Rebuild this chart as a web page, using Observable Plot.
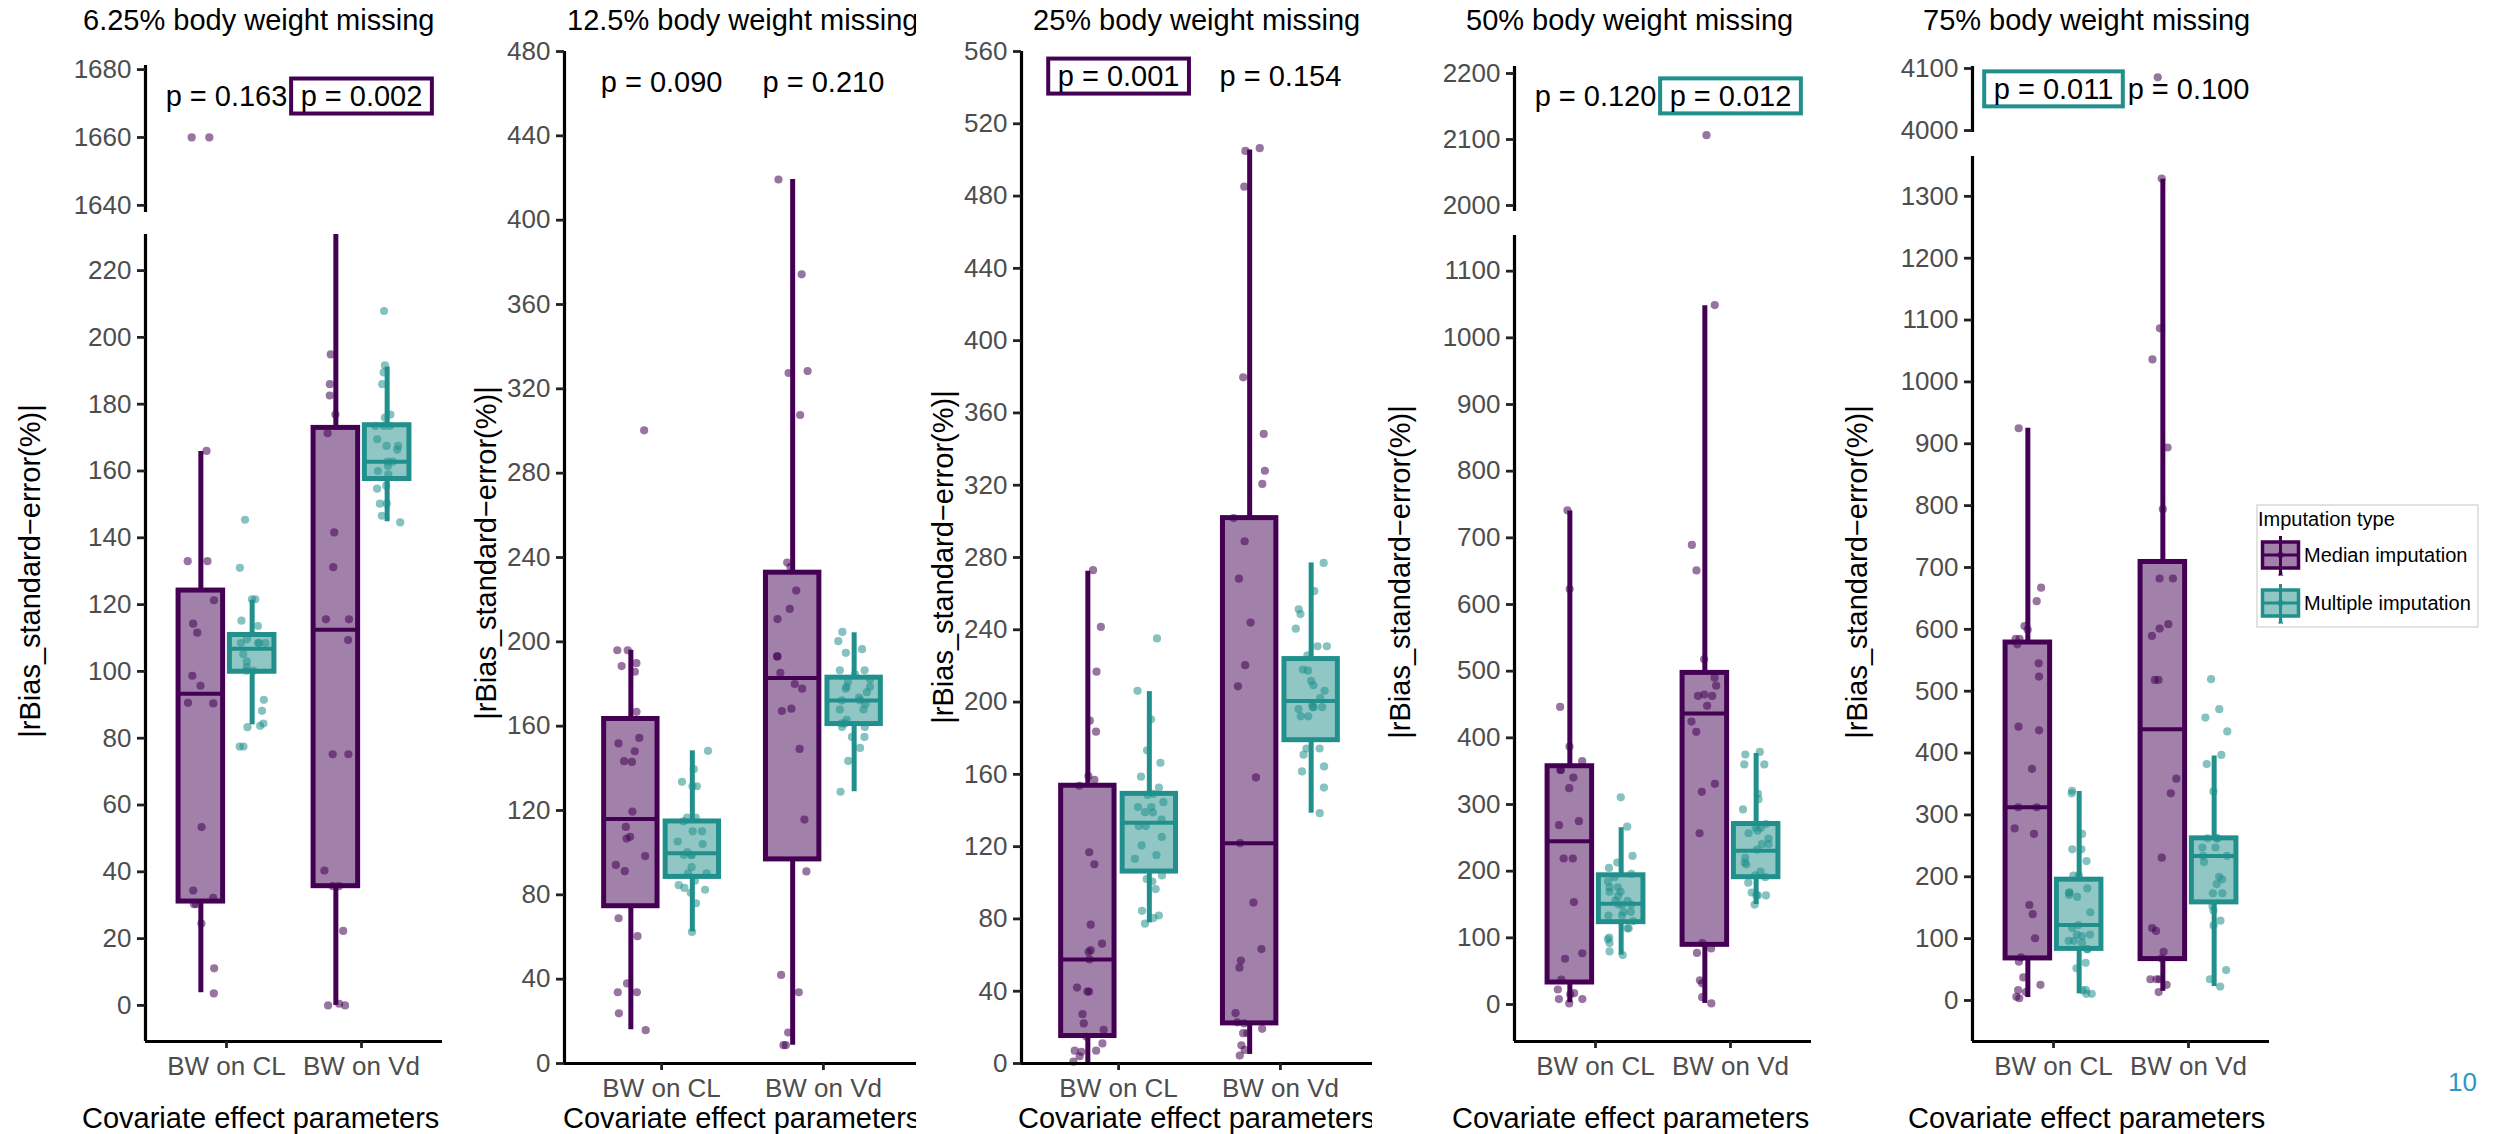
<!DOCTYPE html>
<html><head><meta charset="utf-8">
<script src="https://cdn.jsdelivr.net/npm/d3@7"></script>
<script src="https://cdn.jsdelivr.net/npm/@observablehq/plot@0.6"></script>
<style>
html,body{margin:0;padding:0;background:#fff;}
#root{position:relative;width:2496px;height:1134px;overflow:hidden;background:#fff;}
.panel{position:absolute;left:0;top:0;height:1134px;overflow:hidden;}
</style></head>
<body><div id="root"></div>
<script>
// ---------------- DATA ----------------
const categories = ["BW on CL", "BW on Vd"];
const imputationTypes = ["Median imputation", "Multiple imputation"];
const panelTitles = ["6.25% body weight missing", "12.5% body weight missing", "25% body weight missing", "50% body weight missing", "75% body weight missing"];
const yAxisTitle = "|rBias_standard\u2212error(%)|";
const xAxisTitle = "Covariate effect parameters";
const legendTitle = "Imputation type";
const pageNumber = "10";

// p-value labels per panel: [BW on CL, BW on Vd]
const pValueText = [["p = 0.163", "p = 0.002"], ["p = 0.090", "p = 0.210"], ["p = 0.001", "p = 0.154"], ["p = 0.120", "p = 0.012"], ["p = 0.011", "p = 0.100"]];
const pValueHighlight = [[null, "Median imputation"], [null, null], ["Median imputation", null], [null, "Multiple imputation"], ["Multiple imputation", null]];
const pValueY = [1672, 465, 546, 2165, 4066];

// y tick labels
const yTicksUpper = [[1640, 1660, 1680], null, null, [2000, 2100, 2200], [4000, 4100]];
const yTicksLower = [
  [0, 20, 40, 60, 80, 100, 120, 140, 160, 180, 200, 220],
  [0, 40, 80, 120, 160, 200, 240, 280, 320, 360, 400, 440, 480],
  [0, 40, 80, 120, 160, 200, 240, 280, 320, 360, 400, 440, 480, 520, 560],
  [0, 100, 200, 300, 400, 500, 600, 700, 800, 900, 1000, 1100],
  [0, 100, 200, 300, 400, 500, 600, 700, 800, 900, 1000, 1100, 1200, 1300]
];

// box statistics per panel, order: CL-Median, CL-Multiple, Vd-Median, Vd-Multiple
const boxLo  = [[3.8, 84, 0, 144.8], [16, 62.4, 8.7, 128.9], [0.5, 77.8, 5, 138.5], [2.7, 74.1, 1.6, 149.9], [4.7, 10.7, 14.8, 22.5]];
const boxQ1  = [[31.1, 99.9, 35.7, 157.6], [74.6, 88.5, 96.8, 161], [15.2, 106.2, 22.2, 178.9], [33, 123.5, 89.5, 191], [68, 83.4, 66.9, 158.6]];
const boxMed = [[93.3, 106.8, 112.5, 162.8], [116, 99.7, 182.8, 172.2], [57.6, 133.2, 121.9, 200.6], [244.9, 151, 436.5, 230.6], [312.4, 121.9, 438.4, 233.7]];
const boxQ3  = [[124.2, 110.9, 172.9, 173.7], [163.4, 114.8, 232.8, 183], [153.7, 149.2, 301.8, 223.8], [357.4, 193.8, 497.4, 270.7], [578.7, 195.3, 708.9, 262.1]];
const boxHi  = [[165.8, 121.3, 300, 191.1], [196, 148.3, 419.3, 204.3], [272.4, 205.8, 505.5, 277], [740.1, 265.2, 1048, 376.6], [925.1, 337.9, 1327.7, 395.3]];

// individual simulation results
const p1_cl_med = [1660, 1660, 166, 133, 133, 121.3, 114.3, 111.6, 98.7, 95.7, 90.6, 90.4, 53.4, 34.4, 32.2, 30.3, 30.3, 24.5, 11.1, 3.6];
const p1_cl_mul = [145.4, 131, 121.6, 121.6, 115.2, 113.6, 109.6, 108.5, 108.5, 108.5, 108.5, 105.2, 103, 101.3, 100.2, 100.2, 91.5, 88.2, 84.4, 83.3, 83.7, 77.5, 77.5];
const p1_vd_med = [194.9, 186, 182.6, 176.9, 171.3, 141.6, 131.2, 115.6, 115.6, 109.4, 75.2, 75.2, 40.4, 35.7, 35.7, 22.3, 0.5, 0, 0];
const p1_vd_mul = [207.9, 191.6, 189.5, 186, 176.9, 176, 173.5, 173.5, 173.5, 169.5, 167.5, 167.5, 166.4, 162.8, 162.8, 161.5, 160, 159, 155.6, 154.7, 150.2, 150.2, 146.6, 144.6];

const p2_cl_med = [300.3, 196, 196, 189.9, 188.5, 185.8, 166.8, 154.4, 151.8, 148.1, 143.1, 143.4, 119.5, 112.2, 106.7, 107.5, 98.4, 94.2, 91.2, 68.9, 60.4, 38, 33.8, 33.8, 23.8, 15.8];
const p2_cl_mul = [148.3, 139.6, 133.6, 131.5, 131.5, 116.6, 116.6, 114.8, 110.1, 110.1, 105.3, 104.1, 100.3, 98.9, 98.9, 98.9, 93.1, 90.2, 90.2, 86.7, 84.6, 83.3, 82.4, 81, 76, 62.4];
const p2_vd_med = [419.3, 374.3, 328.4, 327.5, 307.6, 237.6, 235.6, 224.3, 215.6, 210.8, 193.1, 193.1, 185.3, 180, 177.8, 168.3, 167.2, 149.2, 115.7, 91.1, 42, 33.8, 14.7, 8.7, 8.7];
const p2_vd_mul = [204.7, 200.3, 196.5, 194.8, 186.5, 186.5, 184.7, 182.1, 181.2, 178.7, 178.7, 177.8, 176.1, 173.5, 172.2, 172.2, 170.5, 167.9, 167.9, 163, 161.3, 161.3, 159.6, 159.6, 154.9, 154.9, 149.7, 143.5, 128.9];

const p3_cl_med = [273, 241.6, 216.8, 189.7, 183.6, 159.1, 157, 153.7, 116.9, 110.2, 76.8, 66.3, 62.7, 61.7, 57.6, 42, 39.8, 39.8, 27.3, 22.2, 18.6, 14.8, 11.1, 7.1, 7.1, 6.5, 4, 1];
const p3_cl_mul = [235.2, 206.2, 190.5, 173.3, 166.4, 158.7, 152.7, 149.2, 148.6, 144.6, 141.9, 141.9, 139.1, 138.9, 134.9, 131.4, 131.4, 125.4, 120.7, 115.3, 113.2, 104.1, 102.1, 100.7, 96.5, 84.5, 81.9, 80.5, 77.4];
const p3_vd_med = [506.5, 505, 485.2, 379.7, 348.4, 328, 320.7, 301.8, 289, 268.3, 244, 220.4, 208.7, 158.3, 121.9, 89, 63.3, 57, 53, 27.9, 22.8, 22.2, 19.2, 16.8, 16.8, 10.1, 7.5, 4.4];
const p3_vd_mul = [277, 261.4, 251.3, 248.7, 240.6, 230.9, 230.9, 225.9, 218, 217.4, 211.7, 209.3, 206.2, 202.2, 198.8, 197.2, 197.2, 197.2, 196.1, 192.1, 192.1, 174.3, 174.3, 170.9, 164.4, 161.6, 152.7, 138.5];

const p4_cl_med = [741.2, 623.1, 446.3, 387, 365, 351.9, 351.9, 340.4, 324.5, 275, 269, 219, 219, 153.7, 76.9, 68.6, 37.3, 22.5, 17, 15.4, 8.2, 8.2, 1.6];
const p4_cl_mul = [310.7, 266.8, 222.9, 213, 204.8, 196, 191, 184.5, 175.7, 175.7, 169.1, 169.1, 162.5, 155.4, 155.4, 149.9, 149.9, 149.9, 138.9, 138.9, 133.4, 133.4, 125.2, 114.2, 114.2, 100.5, 97.7, 92.2, 79.6, 74.1];
const p4_vd_med = [2106.5, 1049.1, 689.3, 651.1, 517.7, 490.3, 478.2, 465, 462.8, 462.8, 448, 424.4, 409, 331, 319, 256.9, 92.2, 84, 77.4, 36.2, 31.8, 11, 1.6];
const p4_vd_mul = [378.8, 375, 360.1, 360.1, 316.2, 308, 292.6, 270.7, 265.2, 265.2, 260.8, 256.9, 248.7, 240.5, 240.5, 232.2, 220.1, 213, 210.3, 199.3, 193.8, 191, 182.8, 168, 163.6, 163.6, 163.6, 149.9];

const p5_cl_med = [925.1, 667.4, 645.5, 605.3, 599.4, 584.6, 584.6, 575.7, 545, 523.6, 442.6, 436.7, 374.5, 312.4, 312.4, 278.1, 269.2, 154.4, 139.6, 100.6, 69.8, 62.7, 37.3, 25.4, 16.6, 13.6, 5.9, 3.6];
const p5_cl_mul = [339, 334.9, 269.2, 244.4, 244.4, 225.4, 201.8, 201.8, 181.1, 174.6, 174.6, 170.4, 167.5, 142.6, 121.9, 117.2, 106.5, 106.5, 104.1, 96.4, 96.4, 93.5, 82.8, 82.8, 60.9, 52.1, 16.6, 16.6, 10.7, 10.7];
const p5_vd_med = [4085.7, 1328.8, 1086.6, 1036.4, 894, 794.2, 682.2, 682.2, 608.3, 601.2, 589.3, 518.3, 518.3, 358.6, 334.9, 230.8, 117.2, 112.4, 78.7, 68, 34.3, 34.3, 34.3, 25.4, 13.6];
const p5_vd_mul = [519.5, 471, 457.4, 434.9, 397, 382.2, 337.9, 262.1, 262.1, 262.1, 247.3, 247.3, 233.7, 233.7, 223.7, 200, 195.9, 188.2, 173.4, 173.4, 152.7, 145.6, 129, 121.3, 49.1, 34.3, 22.5];

const panelPoints = [
  [p1_cl_med, p1_cl_mul, p1_vd_med, p1_vd_mul],
  [p2_cl_med, p2_cl_mul, p2_vd_med, p2_vd_mul],
  [p3_cl_med, p3_cl_mul, p3_vd_med, p3_vd_mul],
  [p4_cl_med, p4_cl_mul, p4_vd_med, p4_vd_mul],
  [p5_cl_med, p5_cl_mul, p5_vd_med, p5_vd_mul]
];

// ---------------- LAYOUT / STYLE ----------------
const FONT = '"Liberation Sans", Arial, Helvetica, sans-serif';
const COLORS = {"Median imputation": "#440154", "Multiple imputation": "#21908C"};
const DODGE = 0.19, BOXW = 0.33, JIT = 0.1;
const layout = [
  {axisX: 145, right: 442, clip: null, upper: {top: 65, bottom: 212, domain: [1637.9, 1681.2]}, lower: {top: 234, bottom: 1041, domain: [-10.8, 230.8]}, titleX: 83, yTitle: [30, 571], xTitleX: 82},
  {axisX: 564, right: 920, clip: 916, upper: null, lower: {top: 51, bottom: 1063, domain: [0, 480]}, titleX: 567, yTitle: [486, 553], xTitleX: 563},
  {axisX: 1021, right: 1377, clip: 1372, upper: null, lower: {top: 51, bottom: 1063, domain: [0, 560]}, titleX: 1033, yTitle: [943, 557], xTitleX: 1018},
  {axisX: 1514, right: 1811, clip: null, upper: {top: 66, bottom: 211, domain: [1990.9, 2210.6]}, lower: {top: 235, bottom: 1041, domain: [-55.5, 1153.5]}, titleX: 1466, yTitle: [1400, 572], xTitleX: 1452},
  {axisX: 1972, right: 2269, clip: null, upper: {top: 66, bottom: 132, domain: [3996.8, 4103.2]}, lower: {top: 156, bottom: 1041, domain: [-66.3, 1364.4]}, titleX: 1923, yTitle: [1857, 572], xTitleX: 1908}
];

const ns = "http://www.w3.org/2000/svg";
const root = document.getElementById("root");

function groupX(cat, type) { return cat + 1 + (type === imputationTypes[0] ? -DODGE : DODGE); }

function buildPanelData(pi) {
  const groups = [[0, imputationTypes[0]], [0, imputationTypes[1]], [1, imputationTypes[0]], [1, imputationTypes[1]]];
  const boxes = groups.map(([cat, type], k) => ({
    cat, type, gx: groupX(cat, type),
    lo: boxLo[pi][k], q1: boxQ1[pi][k], med: boxMed[pi][k], q3: boxQ3[pi][k], hi: boxHi[pi][k]
  }));
  const points = [];
  groups.forEach(([cat, type], k) => {
    const rnd = d3.randomUniform.source(d3.randomLcg(0.137 + pi * 0.11 + k * 0.023))(-JIT, JIT);
    panelPoints[pi][k].forEach(v => points.push({type, v, x: groupX(cat, type) + rnd()}));
  });
  const labels = [0, 1].map(c => ({x: c + 1, y: pValueY[pi], label: pValueText[pi][c], hl: pValueHighlight[pi][c]}));
  return {boxes, points, labels};
}

function addLabelBoxes(svg, labels) {
  const texts = svg.querySelectorAll('g[aria-label="text"] text');
  texts.forEach((t, i) => {
    const d = labels[i];
    if (!d || !d.hl) return;
    const bb = t.getBBox();
    const r = document.createElementNS(ns, "rect");
    r.setAttribute("x", bb.x - 9.5);
    r.setAttribute("y", bb.y - 1.5);
    r.setAttribute("width", bb.width + 19);
    r.setAttribute("height", bb.height + 3);
    r.setAttribute("fill", "white");
    r.setAttribute("stroke", COLORS[d.hl]);
    r.setAttribute("stroke-width", 4);
    if (t.hasAttribute("transform")) r.setAttribute("transform", t.getAttribute("transform"));
    t.parentNode.insertBefore(r, t);
  });
}

function makeSegment(container, pi, L, seg, isLower, ticks, data, withLabels) {
  const ML = 90, MR = 8, MT = 4, MB = isLower ? 60 : 4;
  const fw = L.right - L.axisX, fh = seg.bottom - seg.top;
  const [d0, d1] = seg.domain;
  const marks = [];
  if (isLower) {
    for (const type of imputationTypes) {
      const c = COLORS[type];
      const b = data.boxes.filter(d => d.type === type);
      marks.push(Plot.ruleX(b, {x: "gx", y1: "q3", y2: "hi", stroke: c, strokeWidth: 5, clip: true}));
      marks.push(Plot.ruleX(b, {x: "gx", y1: "q1", y2: "lo", stroke: c, strokeWidth: 5, clip: true}));
      marks.push(Plot.rect(b, {x1: d => d.gx - BOXW / 2, x2: d => d.gx + BOXW / 2, y1: "q1", y2: "q3", fill: c, fillOpacity: 0.5, stroke: c, strokeWidth: 5, clip: true}));
      marks.push(Plot.ruleY(b, {y: "med", x1: d => d.gx - BOXW / 2, x2: d => d.gx + BOXW / 2, stroke: c, strokeWidth: 4, clip: true}));
    }
  }
  for (const type of imputationTypes) {
    const c = COLORS[type];
    const pts = data.points.filter(d => d.type === type && d.v >= d0 && d.v <= d1);
    marks.push(Plot.dot(pts, {x: "x", y: "v", r: 4.1, fill: c, fillOpacity: 0.55, stroke: "none"}));
  }
  marks.push(Plot.ruleX([0.4], {stroke: "#000", strokeWidth: 3.2}));
  if (isLower) marks.push(Plot.ruleY([d0], {stroke: "#000", strokeWidth: 3.2}));
  marks.push(Plot.axisY({ticks, tickFormat: d => String(d), tickSize: 8, tickPadding: 6, fontSize: 26, stroke: "#222", strokeWidth: 2.8, fill: "#4d4d4d", label: null}));
  if (isLower) marks.push(Plot.axisX({ticks: [1, 2], tickFormat: i => categories[i - 1], tickSize: 7, tickPadding: 8, fontSize: 26, stroke: "#222", strokeWidth: 2.8, fill: "#4d4d4d", label: null}));
  if (withLabels) marks.push(Plot.text(data.labels, {x: "x", y: "y", text: "label", fontSize: 29, fill: "#000"}));

  const svg = Plot.plot({
    width: ML + fw + MR, height: MT + fh + MB,
    marginLeft: ML, marginRight: MR, marginTop: MT, marginBottom: MB,
    x: {domain: [0.4, 2.6], label: null, axis: isLower ? undefined : null},
    y: {domain: [d0, d1], label: null},
    style: {fontFamily: FONT, background: "transparent", overflow: "visible", maxWidth: "none"},
    marks
  });
  svg.style.position = "absolute";
  svg.style.left = (L.axisX - ML) + "px";
  svg.style.top = (seg.top - MT) + "px";
  container.appendChild(svg);
  if (withLabels) addLabelBoxes(svg, data.labels);
}

layout.forEach((L, pi) => {
  const container = document.createElement("div");
  container.className = "panel";
  container.style.width = (L.clip ? L.clip : 2496) + "px";
  root.appendChild(container);
  const data = buildPanelData(pi);
  if (L.upper) makeSegment(container, pi, L, L.upper, false, yTicksUpper[pi], data, true);
  makeSegment(container, pi, L, L.lower, true, yTicksLower[pi], data, !L.upper);

  const t = d3.select(container).append("svg").attr("width", 2496).attr("height", 1134)
    .style("position", "absolute").style("left", 0).style("top", 0).style("pointer-events", "none")
    .attr("font-family", FONT);
  t.append("text").attr("x", L.titleX).attr("y", 20).attr("dominant-baseline", "central")
    .attr("font-size", 29).attr("fill", "#000").text(panelTitles[pi]);
  t.append("text").attr("transform", `translate(${L.yTitle[0]},${L.yTitle[1]}) rotate(-90)`)
    .attr("text-anchor", "middle").attr("dominant-baseline", "central")
    .attr("font-size", 29).attr("fill", "#000").text(yAxisTitle);
  t.append("text").attr("x", L.xTitleX).attr("y", 1118).attr("dominant-baseline", "central")
    .attr("font-size", 29).attr("fill", "#000").text(xAxisTitle);
});

// legend + page number
const ov = d3.select(root).append("svg").attr("width", 2496).attr("height", 1134)
  .style("position", "absolute").style("left", 0).style("top", 0).attr("font-family", FONT);
ov.append("rect").attr("x", 2257).attr("y", 505).attr("width", 221).attr("height", 122)
  .attr("fill", "white").attr("stroke", "#d9d9d9").attr("stroke-width", 1.5);
ov.append("text").attr("x", 2258).attr("y", 519).attr("dominant-baseline", "central")
  .attr("font-size", 20).attr("fill", "#000").text(legendTitle);
imputationTypes.forEach((type, i) => {
  const cy = 555 + i * 48, c = COLORS[type];
  const g = ov.append("g");
  g.append("line").attr("x1", 2280.5).attr("x2", 2280.5).attr("y1", cy - 19).attr("y2", cy + 20).attr("stroke", c).attr("stroke-width", 3);
  g.append("rect").attr("x", 2262.5).attr("y", cy - 13).attr("width", 36).attr("height", 26)
    .attr("fill", c).attr("fill-opacity", 0.5).attr("stroke", c).attr("stroke-width", 3.5);
  g.append("line").attr("x1", 2262.5).attr("x2", 2298.5).attr("y1", cy).attr("y2", cy).attr("stroke", c).attr("stroke-width", 3);
  g.append("circle").attr("cx", 2280.5).attr("cy", cy).attr("r", 3.2).attr("fill", c).attr("fill-opacity", 0.6);
  g.append("text").attr("x", 2280.5).attr("y", cy + 18).attr("text-anchor", "middle").attr("dominant-baseline", "central")
    .attr("font-size", 9).attr("fill", c).text("a");
  ov.append("text").attr("x", 2304).attr("y", cy).attr("dominant-baseline", "central")
    .attr("font-size", 20).attr("fill", "#000").text(type);
});
ov.append("text").attr("x", 2448).attr("y", 1082).attr("dominant-baseline", "central")
  .attr("font-size", 26).attr("fill", "#2b97c9").text(pageNumber);
</script>
</body></html>
